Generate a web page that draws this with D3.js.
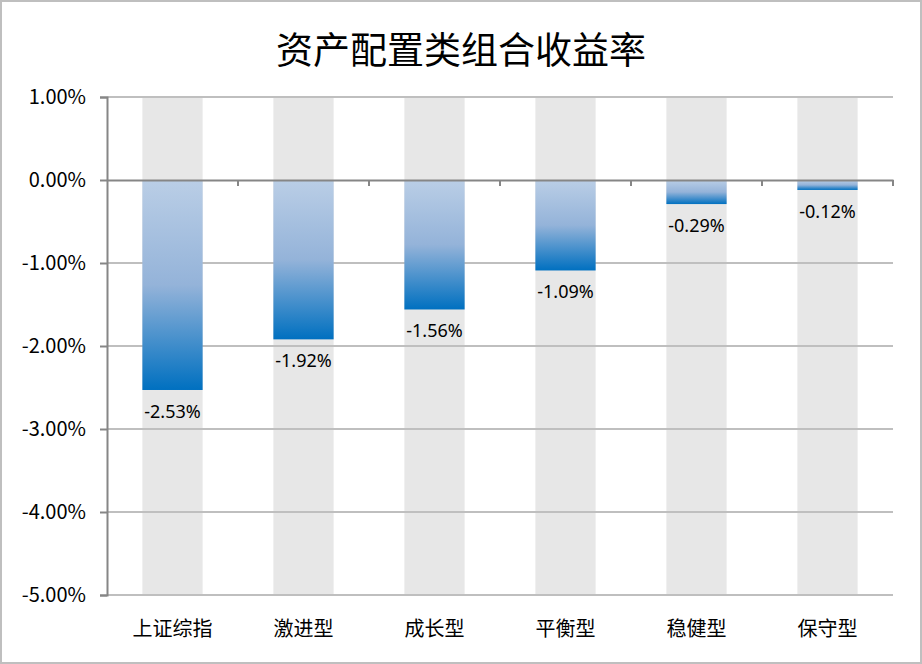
<!DOCTYPE html>
<html><head><meta charset="utf-8">
<script src="https://cdn.jsdelivr.net/npm/d3@7"></script>
<style>body{margin:0;background:#fff;} svg{display:block;}</style>
</head><body>
<svg id="c" width="922" height="664"></svg>
<script>
const title = "资产配置类组合收益率";
const categories = ["上证综指","激进型","成长型","平衡型","稳健型","保守型"];
const values = [-2.53,-1.92,-1.56,-1.09,-0.29,-0.12];
const yTicks = [1,0,-1,-2,-3,-4,-5];

const svg = d3.select("#c");
const W=922,H=664;
const m={l:107,r:29,t:97,b:69};
svg.append("rect").attr("x",1).attr("y",1).attr("width",W-2).attr("height",H-2)
  .attr("fill","#fff").attr("stroke","#bfbfbf").attr("stroke-width",2);

svg.append("text").attr("x",461).attr("y",64).attr("text-anchor","middle")
  .attr("font-family","'Noto Sans CJK SC'").attr("font-size",37).attr("fill","#000").text(title);

const x = d3.scaleBand().domain(categories).range([m.l,W-m.r]).paddingInner(0.54).paddingOuter(0.27);
const y = d3.scaleLinear().domain([-5,1]).range([H-m.b,m.t]);

const defs = svg.append("defs");
const g = defs.append("linearGradient").attr("id","bg").attr("x1",0).attr("y1",0).attr("x2",0).attr("y2",1);
g.append("stop").attr("offset","0%").attr("stop-color","#bacee6");
g.append("stop").attr("offset","50%").attr("stop-color","#94b3d9");
g.append("stop").attr("offset","100%").attr("stop-color","#0070c0");

// background bars
svg.selectAll(".bgbar").data(categories).enter().append("rect")
  .attr("x",d=>x(d)).attr("width",x.bandwidth())
  .attr("y",y(1)).attr("height",y(-5)-y(1)).attr("fill","#e7e7e7");

// gridlines
svg.selectAll(".grid").data(yTicks.filter(t=>t!==0)).enter().append("line")
  .attr("x1",m.l).attr("x2",W-m.r).attr("y1",d=>y(d)).attr("y2",d=>y(d))
  .attr("stroke","#bfbfbf").attr("stroke-width",2);

// bars
svg.selectAll(".bar").data(values).enter().append("rect")
  .attr("x",(d,i)=>x(categories[i])).attr("width",x.bandwidth())
  .attr("y",d=>y(Math.max(0,d))).attr("height",d=>Math.abs(y(d)-y(0)))
  .attr("fill","url(#bg)");

// y axis
const ya = svg.append("g").attr("transform",`translate(${m.l},0)`)
  .call(d3.axisLeft(y).tickValues(yTicks).tickSize(7).tickPadding(14).tickFormat(d=>d.toFixed(2)+"%"));
ya.select(".domain").attr("stroke","#868686").attr("stroke-width",2);
ya.selectAll(".tick line").attr("stroke","#868686").attr("stroke-width",2);
ya.selectAll("text").attr("font-family","'Noto Sans CJK SC'").attr("font-size",20).attr("fill","#000");

// zero axis with category ticks
const step = x.step();
const xa = svg.append("g").attr("transform",`translate(0,${y(0)})`)
  .call(d3.axisBottom(x).tickSize(0).tickFormat(""));
xa.select(".domain").attr("stroke","#868686").attr("stroke-width",2);
const bounds = d3.range(1,categories.length+1).map(i=>m.l+i*step);
svg.selectAll(".ct").data(bounds).enter().append("line")
  .attr("x1",d=>d).attr("x2",d=>d).attr("y1",y(0)).attr("y2",y(0)+6)
  .attr("stroke","#868686").attr("stroke-width",2);

// data labels
svg.selectAll(".lbl").data(values).enter().append("text")
  .attr("x",(d,i)=>x(categories[i])+x.bandwidth()/2).attr("y",d=>y(d)+28)
  .attr("text-anchor","middle").attr("font-family","'Noto Sans'").attr("font-size",18)
  .attr("fill","#000").text(d=>d.toFixed(2)+"%");

// category labels
svg.selectAll(".cat").data(categories).enter().append("text")
  .attr("x",d=>x(d)+x.bandwidth()/2).attr("y",636)
  .attr("text-anchor","middle").attr("font-family","'Noto Sans CJK SC'").attr("font-size",20)
  .attr("fill","#000").text(d=>d);
</script>
</body></html>
